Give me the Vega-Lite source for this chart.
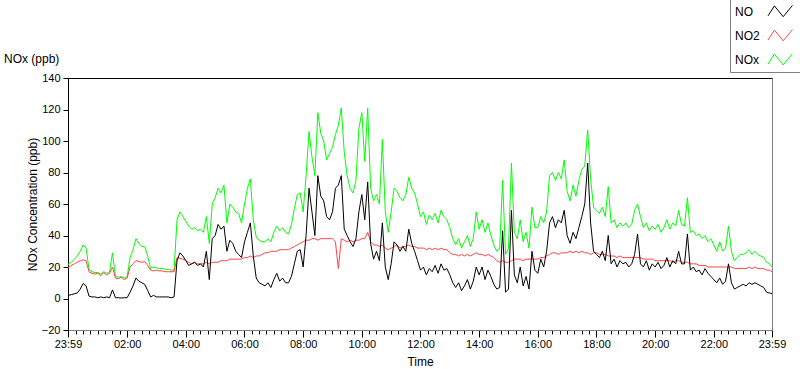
{
  "$schema": "https://vega.github.io/schema/vega-lite/v6.json",
  "width": 704,
  "height": 252,
  "autosize": {"type": "none"},
  "padding": {"left": 68, "top": 78, "right": 28, "bottom": 39},
  "background": "white",
  "title": {"text": "NOx (ppb)", "anchor": "start", "frame": "group", "dx": -64, "offset": -73, "baseline": "middle", "font": "Liberation Sans", "fontSize": 12, "fontWeight": "normal", "color": "black"},
  "config": {
    "view": {"stroke": null},
    "font": "Liberation Sans",
    "axis": {"labelFont": "Liberation Sans", "titleFont": "Liberation Sans", "labelColor": "black", "titleColor": "black", "titleFontWeight": "normal", "titleFontSize": 12, "labelFontSize": 11, "tickColor": "black", "domainWidth": 1, "tickWidth": 1, "gridWidth": 1},
    "legend": {"labelFont": "Liberation Sans", "labelFontSize": 12, "labelColor": "black"}
  },
  "data": {
    "format": {"parse": {"t": "date:'%d %H:%M'"}},
    "values": [
      {"t":"1 23:59","NO":2,"NO2":19.5,"NOx":21},
      {"t":"2 00:00","NO":2,"NO2":20,"NOx":22},
      {"t":"2 00:06","NO":2.5,"NO2":21,"NOx":23},
      {"t":"2 00:12","NO":3,"NO2":22,"NOx":25},
      {"t":"2 00:18","NO":3.5,"NO2":23,"NOx":27},
      {"t":"2 00:24","NO":6,"NO2":24,"NOx":30},
      {"t":"2 00:30","NO":9.5,"NO2":24.5,"NOx":34},
      {"t":"2 00:36","NO":8,"NO2":24,"NOx":32},
      {"t":"2 00:42","NO":1.5,"NO2":17,"NOx":18.5},
      {"t":"2 00:48","NO":1,"NO2":16,"NOx":17},
      {"t":"2 00:54","NO":1,"NO2":15.5,"NOx":16.5},
      {"t":"2 01:00","NO":0.5,"NO2":16,"NOx":16.5},
      {"t":"2 01:06","NO":1,"NO2":14.5,"NOx":15.5},
      {"t":"2 01:12","NO":0.5,"NO2":16.5,"NOx":17},
      {"t":"2 01:18","NO":1,"NO2":15,"NOx":16},
      {"t":"2 01:24","NO":0.5,"NO2":16,"NOx":17},
      {"t":"2 01:30","NO":5.5,"NO2":20,"NOx":29},
      {"t":"2 01:36","NO":0.5,"NO2":13,"NOx":14},
      {"t":"2 01:42","NO":0.5,"NO2":12.5,"NOx":13.5},
      {"t":"2 01:48","NO":0.3,"NO2":13.5,"NOx":14},
      {"t":"2 01:54","NO":0.5,"NO2":12,"NOx":13},
      {"t":"2 02:00","NO":0.5,"NO2":13,"NOx":14},
      {"t":"2 02:06","NO":4,"NO2":20,"NOx":26},
      {"t":"2 02:12","NO":8,"NO2":22,"NOx":31},
      {"t":"2 02:18","NO":13,"NO2":24,"NOx":38},
      {"t":"2 02:24","NO":11,"NO2":23.5,"NOx":35},
      {"t":"2 02:30","NO":10,"NO2":23,"NOx":33},
      {"t":"2 02:36","NO":9,"NO2":23.5,"NOx":33},
      {"t":"2 02:42","NO":5,"NO2":21,"NOx":27},
      {"t":"2 02:48","NO":1,"NO2":18,"NOx":19},
      {"t":"2 02:54","NO":2,"NO2":17.5,"NOx":20},
      {"t":"2 03:00","NO":1,"NO2":18,"NOx":19.5},
      {"t":"2 03:06","NO":1,"NO2":17.5,"NOx":19},
      {"t":"2 03:12","NO":1,"NO2":17.5,"NOx":19},
      {"t":"2 03:18","NO":1,"NO2":17,"NOx":18.5},
      {"t":"2 03:24","NO":1,"NO2":17,"NOx":18.5},
      {"t":"2 03:30","NO":0.5,"NO2":17,"NOx":18},
      {"t":"2 03:36","NO":1,"NO2":17,"NOx":18},
      {"t":"2 03:42","NO":24,"NO2":26,"NOx":50},
      {"t":"2 03:48","NO":29,"NO2":25.5,"NOx":55},
      {"t":"2 03:54","NO":27,"NO2":25,"NOx":52},
      {"t":"2 04:00","NO":24,"NO2":24,"NOx":49},
      {"t":"2 04:06","NO":21,"NO2":23,"NOx":46},
      {"t":"2 04:12","NO":22,"NO2":22,"NOx":44},
      {"t":"2 04:18","NO":23,"NO2":23,"NOx":45},
      {"t":"2 04:24","NO":21,"NO2":22,"NOx":43},
      {"t":"2 04:30","NO":22,"NO2":22,"NOx":44},
      {"t":"2 04:36","NO":20,"NO2":22,"NOx":42},
      {"t":"2 04:42","NO":30,"NO2":23,"NOx":52},
      {"t":"2 04:48","NO":12,"NO2":22,"NOx":35},
      {"t":"2 04:54","NO":38,"NO2":23,"NOx":60},
      {"t":"2 05:00","NO":40,"NO2":23,"NOx":64},
      {"t":"2 05:06","NO":47,"NO2":23,"NOx":70},
      {"t":"2 05:12","NO":44,"NO2":24,"NOx":67},
      {"t":"2 05:18","NO":46,"NO2":24,"NOx":72},
      {"t":"2 05:24","NO":30,"NO2":24,"NOx":48},
      {"t":"2 05:30","NO":37,"NO2":25,"NOx":60},
      {"t":"2 05:36","NO":35,"NO2":25,"NOx":58},
      {"t":"2 05:42","NO":30,"NO2":25,"NOx":55},
      {"t":"2 05:48","NO":28,"NO2":25,"NOx":54},
      {"t":"2 05:54","NO":26,"NO2":25,"NOx":48},
      {"t":"2 06:00","NO":36,"NO2":26,"NOx":60},
      {"t":"2 06:06","NO":42,"NO2":26,"NOx":70},
      {"t":"2 06:12","NO":48,"NO2":27,"NOx":76},
      {"t":"2 06:18","NO":27,"NO2":26,"NOx":50},
      {"t":"2 06:24","NO":13,"NO2":27,"NOx":39},
      {"t":"2 06:30","NO":10,"NO2":27,"NOx":37},
      {"t":"2 06:36","NO":9,"NO2":28,"NOx":36},
      {"t":"2 06:42","NO":8,"NO2":29,"NOx":36},
      {"t":"2 06:48","NO":10,"NO2":29,"NOx":38},
      {"t":"2 06:54","NO":7,"NO2":30,"NOx":36},
      {"t":"2 07:00","NO":12,"NO2":30,"NOx":42},
      {"t":"2 07:06","NO":16,"NO2":30,"NOx":46},
      {"t":"2 07:12","NO":11,"NO2":31,"NOx":43},
      {"t":"2 07:18","NO":13,"NO2":31,"NOx":45},
      {"t":"2 07:24","NO":10,"NO2":31,"NOx":42},
      {"t":"2 07:30","NO":10,"NO2":31,"NOx":41},
      {"t":"2 07:36","NO":14,"NO2":32,"NOx":47},
      {"t":"2 07:42","NO":22,"NO2":33,"NOx":57},
      {"t":"2 07:48","NO":30,"NO2":34,"NOx":66},
      {"t":"2 07:54","NO":31,"NO2":35,"NOx":67},
      {"t":"2 08:00","NO":20,"NO2":36,"NOx":55},
      {"t":"2 08:06","NO":40,"NO2":37,"NOx":78},
      {"t":"2 08:12","NO":70,"NO2":37,"NOx":106},
      {"t":"2 08:18","NO":55,"NO2":38,"NOx":90},
      {"t":"2 08:24","NO":40,"NO2":38,"NOx":78},
      {"t":"2 08:30","NO":78,"NO2":37,"NOx":118},
      {"t":"2 08:36","NO":65,"NO2":38,"NOx":105},
      {"t":"2 08:42","NO":62,"NO2":38,"NOx":100},
      {"t":"2 08:48","NO":52,"NO2":38,"NOx":88},
      {"t":"2 08:54","NO":50,"NO2":38,"NOx":92},
      {"t":"2 09:00","NO":55,"NO2":38,"NOx":96},
      {"t":"2 09:06","NO":70,"NO2":36,"NOx":104},
      {"t":"2 09:12","NO":72,"NO2":19,"NOx":110},
      {"t":"2 09:18","NO":78,"NO2":38,"NOx":121},
      {"t":"2 09:24","NO":44,"NO2":37,"NOx":93},
      {"t":"2 09:30","NO":40,"NO2":36,"NOx":78},
      {"t":"2 09:36","NO":36,"NO2":37,"NOx":70},
      {"t":"2 09:42","NO":33,"NO2":36,"NOx":67},
      {"t":"2 09:48","NO":38,"NO2":37,"NOx":75},
      {"t":"2 09:54","NO":55,"NO2":37,"NOx":108},
      {"t":"2 10:00","NO":66,"NO2":38,"NOx":118},
      {"t":"2 10:06","NO":50,"NO2":38,"NOx":87},
      {"t":"2 10:12","NO":74,"NO2":42,"NOx":121},
      {"t":"2 10:18","NO":35,"NO2":36,"NOx":70},
      {"t":"2 10:24","NO":25,"NO2":34,"NOx":62},
      {"t":"2 10:30","NO":30,"NO2":34,"NOx":66},
      {"t":"2 10:36","NO":24,"NO2":33,"NOx":60},
      {"t":"2 10:42","NO":48,"NO2":34,"NOx":101},
      {"t":"2 10:48","NO":20,"NO2":32,"NOx":55},
      {"t":"2 10:54","NO":12,"NO2":31,"NOx":42},
      {"t":"2 11:00","NO":22,"NO2":32,"NOx":55},
      {"t":"2 11:06","NO":36,"NO2":33,"NOx":70},
      {"t":"2 11:12","NO":34,"NO2":34,"NOx":68},
      {"t":"2 11:18","NO":30,"NO2":32,"NOx":64},
      {"t":"2 11:24","NO":33,"NO2":33,"NOx":62},
      {"t":"2 11:30","NO":30,"NO2":33,"NOx":66},
      {"t":"2 11:36","NO":44,"NO2":34,"NOx":77},
      {"t":"2 11:42","NO":35,"NO2":33,"NOx":70},
      {"t":"2 11:48","NO":30,"NO2":33,"NOx":67},
      {"t":"2 11:54","NO":24,"NO2":32,"NOx":60},
      {"t":"2 12:00","NO":18,"NO2":32,"NOx":52},
      {"t":"2 12:06","NO":20,"NO2":32,"NOx":55},
      {"t":"2 12:12","NO":15,"NO2":31,"NOx":47},
      {"t":"2 12:18","NO":19,"NO2":32,"NOx":53},
      {"t":"2 12:24","NO":17,"NO2":31,"NOx":50},
      {"t":"2 12:30","NO":21,"NO2":32,"NOx":54},
      {"t":"2 12:36","NO":16,"NO2":31,"NOx":48},
      {"t":"2 12:42","NO":22,"NO2":32,"NOx":56},
      {"t":"2 12:48","NO":18,"NO2":31,"NOx":52},
      {"t":"2 12:54","NO":19,"NO2":31,"NOx":50},
      {"t":"2 13:00","NO":15,"NO2":29,"NOx":45},
      {"t":"2 13:06","NO":10,"NO2":28,"NOx":38},
      {"t":"2 13:12","NO":7,"NO2":28,"NOx":34},
      {"t":"2 13:18","NO":10,"NO2":27,"NOx":38},
      {"t":"2 13:24","NO":5,"NO2":28,"NOx":32},
      {"t":"2 13:30","NO":8,"NO2":27,"NOx":36},
      {"t":"2 13:36","NO":12,"NO2":28,"NOx":40},
      {"t":"2 13:42","NO":6,"NO2":27,"NOx":33},
      {"t":"2 13:48","NO":11,"NO2":28,"NOx":38},
      {"t":"2 13:54","NO":20,"NO2":29,"NOx":55},
      {"t":"2 14:00","NO":15,"NO2":28,"NOx":44},
      {"t":"2 14:06","NO":20,"NO2":28,"NOx":50},
      {"t":"2 14:12","NO":12,"NO2":27,"NOx":42},
      {"t":"2 14:18","NO":18,"NO2":28,"NOx":48},
      {"t":"2 14:24","NO":14,"NO2":27,"NOx":40},
      {"t":"2 14:30","NO":9,"NO2":26,"NOx":34},
      {"t":"2 14:36","NO":6,"NO2":24,"NOx":30},
      {"t":"2 14:42","NO":7,"NO2":23,"NOx":32},
      {"t":"2 14:48","NO":43,"NO2":24,"NOx":75},
      {"t":"2 14:54","NO":4,"NO2":23,"NOx":28},
      {"t":"2 15:00","NO":6,"NO2":23,"NOx":32},
      {"t":"2 15:06","NO":56,"NO2":24,"NOx":86},
      {"t":"2 15:12","NO":15,"NO2":25,"NOx":42},
      {"t":"2 15:18","NO":10,"NO2":25,"NOx":38},
      {"t":"2 15:24","NO":20,"NO2":25,"NOx":50},
      {"t":"2 15:30","NO":8,"NO2":24,"NOx":36},
      {"t":"2 15:36","NO":14,"NO2":25,"NOx":42},
      {"t":"2 15:42","NO":6,"NO2":25,"NOx":32},
      {"t":"2 15:48","NO":30,"NO2":25,"NOx":58},
      {"t":"2 15:54","NO":18,"NO2":25,"NOx":45},
      {"t":"2 16:00","NO":16,"NO2":25,"NOx":45},
      {"t":"2 16:06","NO":25,"NO2":26,"NOx":52},
      {"t":"2 16:12","NO":20,"NO2":26,"NOx":48},
      {"t":"2 16:18","NO":30,"NO2":27,"NOx":55},
      {"t":"2 16:24","NO":48,"NO2":28,"NOx":78},
      {"t":"2 16:30","NO":52,"NO2":29,"NOx":80},
      {"t":"2 16:36","NO":45,"NO2":29,"NOx":75},
      {"t":"2 16:42","NO":50,"NO2":28,"NOx":80},
      {"t":"2 16:48","NO":48,"NO2":29,"NOx":76},
      {"t":"2 16:54","NO":56,"NO2":29,"NOx":88},
      {"t":"2 17:00","NO":40,"NO2":29,"NOx":68},
      {"t":"2 17:06","NO":35,"NO2":30,"NOx":62},
      {"t":"2 17:12","NO":42,"NO2":29,"NOx":72},
      {"t":"2 17:18","NO":38,"NO2":30,"NOx":65},
      {"t":"2 17:24","NO":45,"NO2":29,"NOx":75},
      {"t":"2 17:30","NO":52,"NO2":30,"NOx":82},
      {"t":"2 17:36","NO":60,"NO2":29,"NOx":84},
      {"t":"2 17:42","NO":86,"NO2":29,"NOx":107},
      {"t":"2 17:48","NO":48,"NO2":28,"NOx":76},
      {"t":"2 17:54","NO":30,"NO2":29,"NOx":58},
      {"t":"2 18:00","NO":28,"NO2":29,"NOx":56},
      {"t":"2 18:06","NO":26,"NO2":28,"NOx":54},
      {"t":"2 18:12","NO":30,"NO2":28,"NOx":58},
      {"t":"2 18:18","NO":24,"NO2":28,"NOx":52},
      {"t":"2 18:24","NO":40,"NO2":27,"NOx":71},
      {"t":"2 18:30","NO":22,"NO2":27,"NOx":48},
      {"t":"2 18:36","NO":25,"NO2":27,"NOx":50},
      {"t":"2 18:42","NO":20,"NO2":26,"NOx":45},
      {"t":"2 18:48","NO":24,"NO2":27,"NOx":48},
      {"t":"2 18:54","NO":22,"NO2":26,"NOx":46},
      {"t":"2 19:00","NO":23,"NO2":26,"NOx":48},
      {"t":"2 19:06","NO":20,"NO2":26,"NOx":45},
      {"t":"2 19:12","NO":22,"NO2":26,"NOx":47},
      {"t":"2 19:18","NO":28,"NO2":26,"NOx":56},
      {"t":"2 19:24","NO":41,"NO2":26,"NOx":60},
      {"t":"2 19:30","NO":22,"NO2":26,"NOx":52},
      {"t":"2 19:36","NO":20,"NO2":25,"NOx":45},
      {"t":"2 19:42","NO":24,"NO2":25,"NOx":48},
      {"t":"2 19:48","NO":18,"NO2":25,"NOx":43},
      {"t":"2 19:54","NO":22,"NO2":25,"NOx":46},
      {"t":"2 20:00","NO":20,"NO2":24,"NOx":44},
      {"t":"2 20:06","NO":23,"NO2":24,"NOx":47},
      {"t":"2 20:12","NO":19,"NO2":24,"NOx":42},
      {"t":"2 20:18","NO":21,"NO2":24,"NOx":45},
      {"t":"2 20:24","NO":26,"NO2":24,"NOx":50},
      {"t":"2 20:30","NO":20,"NO2":24,"NOx":44},
      {"t":"2 20:36","NO":24,"NO2":23,"NOx":48},
      {"t":"2 20:42","NO":22,"NO2":24,"NOx":46},
      {"t":"2 20:48","NO":30,"NO2":24,"NOx":56},
      {"t":"2 20:54","NO":22,"NO2":23,"NOx":47},
      {"t":"2 21:00","NO":22,"NO2":23,"NOx":46},
      {"t":"2 21:06","NO":41,"NO2":23,"NOx":64},
      {"t":"2 21:12","NO":18,"NO2":22,"NOx":42},
      {"t":"2 21:18","NO":20,"NO2":22,"NOx":43},
      {"t":"2 21:24","NO":17,"NO2":22,"NOx":40},
      {"t":"2 21:30","NO":18,"NO2":21,"NOx":41},
      {"t":"2 21:36","NO":15,"NO2":21,"NOx":38},
      {"t":"2 21:42","NO":19,"NO2":21,"NOx":40},
      {"t":"2 21:48","NO":16,"NO2":20,"NOx":36},
      {"t":"2 21:54","NO":14,"NO2":20,"NOx":38},
      {"t":"2 22:00","NO":12,"NO2":20,"NOx":34},
      {"t":"2 22:06","NO":10,"NO2":20,"NOx":30},
      {"t":"2 22:12","NO":13,"NO2":20,"NOx":36},
      {"t":"2 22:18","NO":9,"NO2":20,"NOx":30},
      {"t":"2 22:24","NO":11,"NO2":20,"NOx":32},
      {"t":"2 22:30","NO":22,"NO2":20,"NOx":46},
      {"t":"2 22:36","NO":10,"NO2":20,"NOx":30},
      {"t":"2 22:42","NO":6,"NO2":19,"NOx":24},
      {"t":"2 22:48","NO":7,"NO2":19,"NOx":26},
      {"t":"2 22:54","NO":8,"NO2":19,"NOx":28},
      {"t":"2 23:00","NO":9,"NO2":19,"NOx":28},
      {"t":"2 23:06","NO":8,"NO2":19,"NOx":29},
      {"t":"2 23:12","NO":10,"NO2":20,"NOx":31},
      {"t":"2 23:18","NO":9,"NO2":19,"NOx":28},
      {"t":"2 23:24","NO":10,"NO2":20,"NOx":30},
      {"t":"2 23:30","NO":9,"NO2":19,"NOx":28},
      {"t":"2 23:36","NO":8,"NO2":19,"NOx":27},
      {"t":"2 23:42","NO":7,"NO2":19,"NOx":26},
      {"t":"2 23:48","NO":4,"NO2":18,"NOx":23},
      {"t":"2 23:54","NO":3.5,"NO2":18,"NOx":22},
      {"t":"2 23:59","NO":3,"NO2":17,"NOx":20}
    ]
  },
  "transform": [{"fold": ["NOx", "NO2", "NO"], "as": ["series", "value"]}],
  "mark": {"type": "line", "strokeWidth": 1, "interpolate": "linear"},
  "encoding": {
    "x": {
      "field": "t", "type": "temporal",
      "scale": {"domain": [{"year": 1900, "month": 1, "date": 1, "hours": 23, "minutes": 59}, {"year": 1900, "month": 1, "date": 2, "hours": 23, "minutes": 59}]},
      "axis": {
        "orient": "bottom",
        "values": [
          {"year":1900,"month":1,"date":1,"hours":23,"minutes":59},
          {"year":1900,"month":1,"date":2,"hours":0,"minutes":0},{"year":1900,"month":1,"date":2,"hours":0,"minutes":15},{"year":1900,"month":1,"date":2,"hours":0,"minutes":30},{"year":1900,"month":1,"date":2,"hours":0,"minutes":45},
          {"year":1900,"month":1,"date":2,"hours":1,"minutes":0},{"year":1900,"month":1,"date":2,"hours":1,"minutes":15},{"year":1900,"month":1,"date":2,"hours":1,"minutes":30},{"year":1900,"month":1,"date":2,"hours":1,"minutes":45},
          {"year":1900,"month":1,"date":2,"hours":2,"minutes":0},{"year":1900,"month":1,"date":2,"hours":2,"minutes":15},{"year":1900,"month":1,"date":2,"hours":2,"minutes":30},{"year":1900,"month":1,"date":2,"hours":2,"minutes":45},
          {"year":1900,"month":1,"date":2,"hours":3,"minutes":0},{"year":1900,"month":1,"date":2,"hours":3,"minutes":15},{"year":1900,"month":1,"date":2,"hours":3,"minutes":30},{"year":1900,"month":1,"date":2,"hours":3,"minutes":45},
          {"year":1900,"month":1,"date":2,"hours":4,"minutes":0},{"year":1900,"month":1,"date":2,"hours":4,"minutes":15},{"year":1900,"month":1,"date":2,"hours":4,"minutes":30},{"year":1900,"month":1,"date":2,"hours":4,"minutes":45},
          {"year":1900,"month":1,"date":2,"hours":5,"minutes":0},{"year":1900,"month":1,"date":2,"hours":5,"minutes":15},{"year":1900,"month":1,"date":2,"hours":5,"minutes":30},{"year":1900,"month":1,"date":2,"hours":5,"minutes":45},
          {"year":1900,"month":1,"date":2,"hours":6,"minutes":0},{"year":1900,"month":1,"date":2,"hours":6,"minutes":15},{"year":1900,"month":1,"date":2,"hours":6,"minutes":30},{"year":1900,"month":1,"date":2,"hours":6,"minutes":45},
          {"year":1900,"month":1,"date":2,"hours":7,"minutes":0},{"year":1900,"month":1,"date":2,"hours":7,"minutes":15},{"year":1900,"month":1,"date":2,"hours":7,"minutes":30},{"year":1900,"month":1,"date":2,"hours":7,"minutes":45},
          {"year":1900,"month":1,"date":2,"hours":8,"minutes":0},{"year":1900,"month":1,"date":2,"hours":8,"minutes":15},{"year":1900,"month":1,"date":2,"hours":8,"minutes":30},{"year":1900,"month":1,"date":2,"hours":8,"minutes":45},
          {"year":1900,"month":1,"date":2,"hours":9,"minutes":0},{"year":1900,"month":1,"date":2,"hours":9,"minutes":15},{"year":1900,"month":1,"date":2,"hours":9,"minutes":30},{"year":1900,"month":1,"date":2,"hours":9,"minutes":45},
          {"year":1900,"month":1,"date":2,"hours":10,"minutes":0},{"year":1900,"month":1,"date":2,"hours":10,"minutes":15},{"year":1900,"month":1,"date":2,"hours":10,"minutes":30},{"year":1900,"month":1,"date":2,"hours":10,"minutes":45},
          {"year":1900,"month":1,"date":2,"hours":11,"minutes":0},{"year":1900,"month":1,"date":2,"hours":11,"minutes":15},{"year":1900,"month":1,"date":2,"hours":11,"minutes":30},{"year":1900,"month":1,"date":2,"hours":11,"minutes":45},
          {"year":1900,"month":1,"date":2,"hours":12,"minutes":0},{"year":1900,"month":1,"date":2,"hours":12,"minutes":15},{"year":1900,"month":1,"date":2,"hours":12,"minutes":30},{"year":1900,"month":1,"date":2,"hours":12,"minutes":45},
          {"year":1900,"month":1,"date":2,"hours":13,"minutes":0},{"year":1900,"month":1,"date":2,"hours":13,"minutes":15},{"year":1900,"month":1,"date":2,"hours":13,"minutes":30},{"year":1900,"month":1,"date":2,"hours":13,"minutes":45},
          {"year":1900,"month":1,"date":2,"hours":14,"minutes":0},{"year":1900,"month":1,"date":2,"hours":14,"minutes":15},{"year":1900,"month":1,"date":2,"hours":14,"minutes":30},{"year":1900,"month":1,"date":2,"hours":14,"minutes":45},
          {"year":1900,"month":1,"date":2,"hours":15,"minutes":0},{"year":1900,"month":1,"date":2,"hours":15,"minutes":15},{"year":1900,"month":1,"date":2,"hours":15,"minutes":30},{"year":1900,"month":1,"date":2,"hours":15,"minutes":45},
          {"year":1900,"month":1,"date":2,"hours":16,"minutes":0},{"year":1900,"month":1,"date":2,"hours":16,"minutes":15},{"year":1900,"month":1,"date":2,"hours":16,"minutes":30},{"year":1900,"month":1,"date":2,"hours":16,"minutes":45},
          {"year":1900,"month":1,"date":2,"hours":17,"minutes":0},{"year":1900,"month":1,"date":2,"hours":17,"minutes":15},{"year":1900,"month":1,"date":2,"hours":17,"minutes":30},{"year":1900,"month":1,"date":2,"hours":17,"minutes":45},
          {"year":1900,"month":1,"date":2,"hours":18,"minutes":0},{"year":1900,"month":1,"date":2,"hours":18,"minutes":15},{"year":1900,"month":1,"date":2,"hours":18,"minutes":30},{"year":1900,"month":1,"date":2,"hours":18,"minutes":45},
          {"year":1900,"month":1,"date":2,"hours":19,"minutes":0},{"year":1900,"month":1,"date":2,"hours":19,"minutes":15},{"year":1900,"month":1,"date":2,"hours":19,"minutes":30},{"year":1900,"month":1,"date":2,"hours":19,"minutes":45},
          {"year":1900,"month":1,"date":2,"hours":20,"minutes":0},{"year":1900,"month":1,"date":2,"hours":20,"minutes":15},{"year":1900,"month":1,"date":2,"hours":20,"minutes":30},{"year":1900,"month":1,"date":2,"hours":20,"minutes":45},
          {"year":1900,"month":1,"date":2,"hours":21,"minutes":0},{"year":1900,"month":1,"date":2,"hours":21,"minutes":15},{"year":1900,"month":1,"date":2,"hours":21,"minutes":30},{"year":1900,"month":1,"date":2,"hours":21,"minutes":45},
          {"year":1900,"month":1,"date":2,"hours":22,"minutes":0},{"year":1900,"month":1,"date":2,"hours":22,"minutes":15},{"year":1900,"month":1,"date":2,"hours":22,"minutes":30},{"year":1900,"month":1,"date":2,"hours":22,"minutes":45},
          {"year":1900,"month":1,"date":2,"hours":23,"minutes":0},{"year":1900,"month":1,"date":2,"hours":23,"minutes":15},{"year":1900,"month":1,"date":2,"hours":23,"minutes":30},{"year":1900,"month":1,"date":2,"hours":23,"minutes":45},
          {"year":1900,"month":1,"date":2,"hours":23,"minutes":59}
        ],
        "labelExpr": "(minutes(datum.value) == 59) || (minutes(datum.value) == 0 && hours(datum.value) % 2 == 0 && hours(datum.value) > 0) ? timeFormat(datum.value, '%H:%M') : ''",
        "tickSize": {"condition": {"test": "(minutes(datum.value) == 59) || (minutes(datum.value) == 0 && hours(datum.value) % 2 == 0 && hours(datum.value) > 0)", "value": 7}, "value": 4},
        "grid": true,
        "gridColor": "#808080",
        "gridOpacity": {"condition": {"test": "date(datum.value) == 2 && minutes(datum.value) == 59", "value": 1}, "value": 0},
        "domainColor": "#808080",
        "labelPadding": 1,
        "labelFlush": false,
        "labelOverlap": false,
        "title": "Time",
        "titleY": 26,
        "titleBaseline": "top"
      }
    },
    "y": {
      "field": "value", "type": "quantitative",
      "scale": {"domain": [-20, 140], "nice": false, "zero": false},
      "axis": {
        "orient": "left",
        "values": [-20, 0, 20, 40, 60, 80, 100, 120, 140],
        "grid": true,
        "gridColor": "black",
        "gridOpacity": {"condition": {"test": "datum.value == 140", "value": 1}, "value": 0},
        "domainColor": "black",
        "tickSize": 5,
        "labelPadding": 3,
        "title": "NOx Concentration (ppb)",
        "titleX": -36,
        "titleY": 126,
        "titleAlign": "center",
        "titleBaseline": "middle"
      }
    },
    "color": {
      "field": "series", "type": "nominal",
      "scale": {"domain": ["NO", "NO2", "NOx"], "range": ["#000000", "#ff4444", "#00ff00"]},
      "legend": {
        "orient": "none", "legendX": 662, "legendY": -80, "title": null,
        "padding": 5, "strokeColor": "#808080",
        "symbolType": "M-1.75,0.55L-0.95,-0.7L0.15,0.65L1.3,-0.75",
        "symbolSize": 256, "symbolStrokeWidth": 1,
        "labelOffset": -55.5, "symbolOffset": 38.5, "rowPadding": 8.1,
        "labelBaseline": "middle"
      }
    }
  }
}
